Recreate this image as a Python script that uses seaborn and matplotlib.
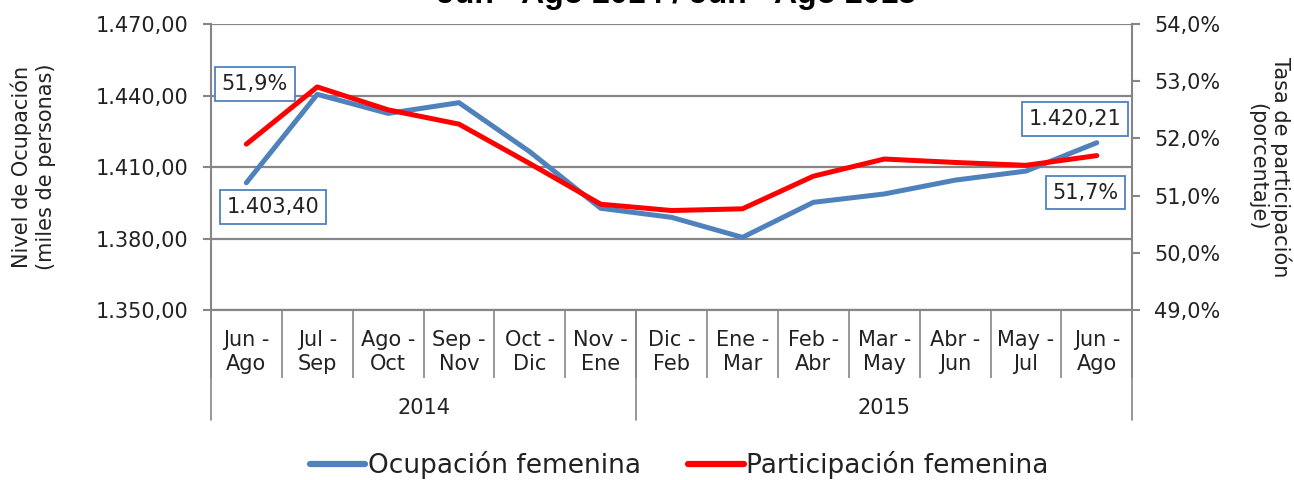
import matplotlib
matplotlib.use("Agg")
import matplotlib.pyplot as plt
import matplotlib.ticker as mticker
import matplotlib.transforms as mtransforms
from matplotlib.lines import Line2D
import seaborn as sns

# Datos
periodos = ["Jun -\nAgo", "Jul -\nSep", "Ago -\nOct", "Sep -\nNov", "Oct -\nDic", "Nov -\nEne",
            "Dic -\nFeb", "Ene -\nMar", "Feb -\nAbr", "Mar -\nMay", "Abr -\nJun", "May -\nJul", "Jun -\nAgo"]
anios = ["2014", "2015"]
anio_grupos = [6, 7]  # número de periodos por año
ocupacion = [1403.40, 1440.5, 1432.5, 1437.0, 1416.4, 1392.7, 1388.9,
             1380.5, 1395.2, 1398.7, 1404.5, 1408.3, 1420.21]
participacion = [51.9, 52.90, 52.50, 52.25, 51.56, 50.85, 50.74,
                 50.77, 51.34, 51.64, 51.58, 51.53, 51.7]

azul = "#4F81BD"
rojo = "#FF0000"
gris = "#868686"
texto = "#222222"

sns.set_theme(style="white")
plt.rcParams["font.family"] = ["DejaVu Sans"]

fig, ax = plt.subplots(figsize=(12.94, 4.8), dpi=100)
fig.subplots_adjust(left=0.163, right=0.875, top=0.95, bottom=0.354)
ax2 = ax.twinx()

x = list(range(len(periodos)))
sns.lineplot(x=x, y=ocupacion, ax=ax, color=azul, linewidth=3.6, zorder=3)
sns.lineplot(x=x, y=participacion, ax=ax2, color=rojo, linewidth=3.6, zorder=3)

# Eje izquierdo
ax.set_ylim(1350, 1470)
ax.set_yticks([1350, 1380, 1410, 1440, 1470])
ax.yaxis.set_major_formatter(mticker.FuncFormatter(
    lambda v, p: f"{v:,.2f}".replace(",", "X").replace(".", ",").replace("X", ".")))
ax.grid(axis="y", color=gris, linewidth=1.6)
ax.set_ylabel("Nivel de Ocupación\n(miles de personas)", fontsize=15, color=texto, labelpad=29)

# Eje derecho
ax2.set_ylim(49, 54)
ax2.set_yticks([49, 50, 51, 52, 53, 54])
ax2.yaxis.set_major_formatter(mticker.FuncFormatter(lambda v, p: f"{v:.1f}%".replace(".", ",")))
ax2.set_ylabel("Tasa de participación\n(porcentaje)", fontsize=15, color=texto,
               rotation=270, labelpad=51)

for a in (ax, ax2):
    a.set_xlim(-0.5, len(periodos) - 0.5)
    for s in a.spines.values():
        s.set_color(gris)
        s.set_linewidth(1.5)
    a.spines["top"].set_visible(False)
    a.tick_params(axis="y", which="major", length=6, width=1.5, color=gris,
                  labelsize=15, labelcolor=texto, direction="out", pad=10)
ax.spines["right"].set_visible(False)
ax2.spines["left"].set_visible(False)
ax.tick_params(axis="y", left=True)
ax2.tick_params(axis="y", right=True)

# Eje de categorías (dos niveles)
ax.set_xticks(x)
ax.set_xticklabels(periodos, fontsize=15, color=texto, linespacing=1.25)
ax.set_xticks([i - 0.5 for i in range(len(periodos) + 1)], minor=True)
ax.tick_params(axis="x", which="major", length=0, pad=14)
ax.tick_params(axis="x", which="minor", length=49, width=1.2, color=gris, direction="out", bottom=True)

trans = mtransforms.blended_transform_factory(ax.transData, ax.transAxes)
inicio = -0.5
for anio, n in zip(anios, anio_grupos):
    ax.text(inicio + n / 2, -0.343, anio, transform=trans, ha="center", va="center",
            fontsize=15, color=texto)
    ax.plot([inicio, inicio], [0, -0.385], transform=trans, color=gris, lw=1.2, clip_on=False)
    inicio += n
ax.plot([inicio, inicio], [0, -0.385], transform=trans, color=gris, lw=1.2, clip_on=False)

# Etiquetas de datos
caja = dict(boxstyle="square,pad=0.32", facecolor="white", edgecolor=azul, linewidth=1.3)
ax2.annotate("51,9%", xy=(x[0], participacion[0]), xytext=(0.12, 52.95),
             fontsize=15, color=texto, bbox=caja, ha="center", va="center")
ax.annotate("1.403,40", xy=(x[0], ocupacion[0]), xytext=(0.375, 1393.2),
            fontsize=15, color=texto, bbox=caja, ha="center", va="center")
ax.annotate("1.420,21", xy=(x[-1], ocupacion[-1]), xytext=(11.69, 1430.1),
            fontsize=15, color=texto, bbox=caja, ha="center", va="center")
ax2.annotate("51,7%", xy=(x[-1], participacion[-1]), xytext=(11.84, 51.05),
             fontsize=15, color=texto, bbox=caja, ha="center", va="center")

# Título (parcialmente recortado como en la referencia)
fig.text(0.523, 1 - 3 / 480, "Jun - Ago 2014 / Jun - Ago 2015", ha="center", va="baseline",
         fontsize=23, fontweight="bold", family="Liberation Sans", color="black")

# Leyenda
handles = [Line2D([], [], color=azul, lw=4.5), Line2D([], [], color=rojo, lw=4.5)]
fig.legend(handles, ["Ocupación femenina", "Participación femenina"], loc="center",
           bbox_to_anchor=(0.525, 1 - 465 / 480), ncol=2, frameon=False, fontsize=19,
           handlelength=2.1, handletextpad=0.1, columnspacing=1.8, labelcolor=texto)

fig.savefig("out.png", dpi=100)
